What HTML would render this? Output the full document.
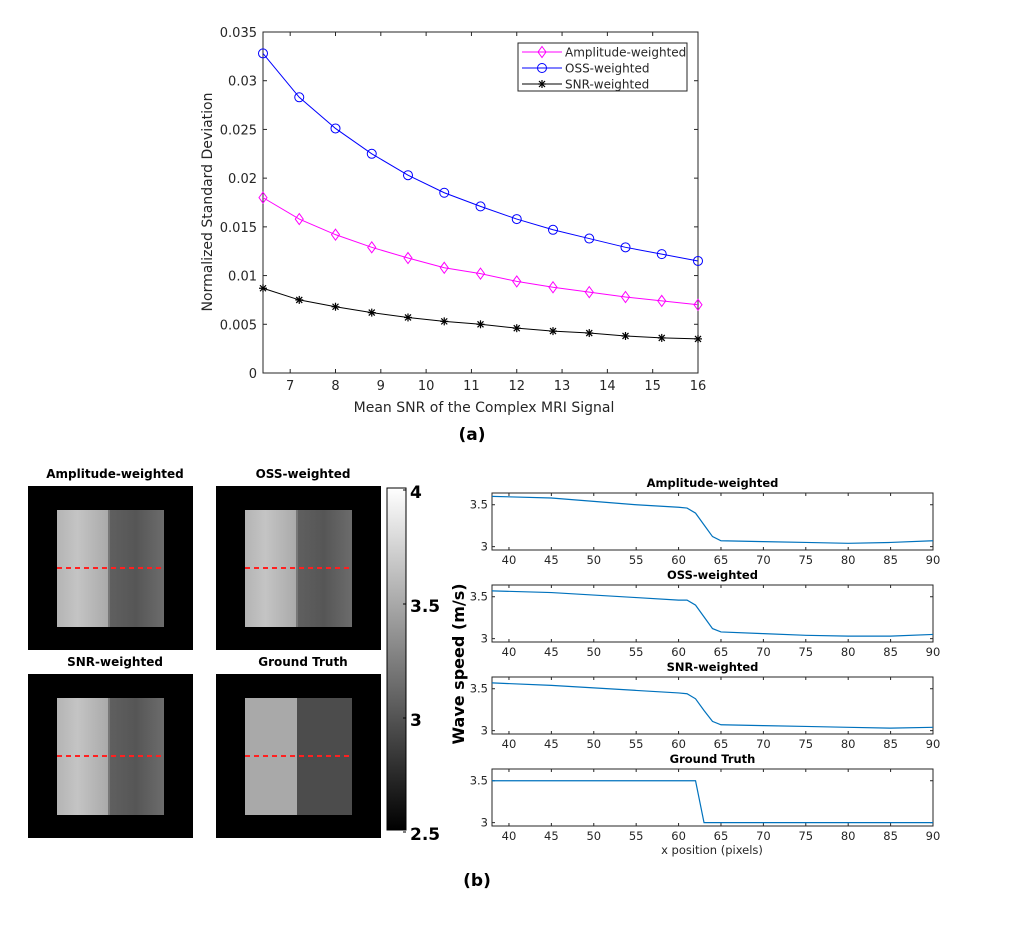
<!DOCTYPE html>
<html><head><meta charset="utf-8"><style>
body{margin:0;background:#fff;font-family:"Liberation Sans","DejaVu Sans",sans-serif}
svg text{font-family:"DejaVu Sans","Liberation Sans",sans-serif}
</style></head><body>
<svg id="fig" width="1016" height="940" viewBox="0 0 1016 940" xmlns="http://www.w3.org/2000/svg">
<rect width="1016" height="940" fill="#fff"/>
<g id="chartA"></g>
<g id="images"></g>
<g id="profiles"></g>
<text x="472" y="440" font-size="17" font-weight="bold" text-anchor="middle">(a)</text>
<text x="477" y="886" font-size="17" font-weight="bold" text-anchor="middle">(b)</text>
</svg>
<script>
const NS="http://www.w3.org/2000/svg";
function mk(p,t,a,txt){const e=document.createElementNS(NS,t);for(const k in a)e.setAttribute(k,a[k]);if(txt!==undefined)e.textContent=txt;p.appendChild(e);return e;}

// ---- Chart (a) data
const snrX=[6.4,7.2,8,8.8,9.6,10.4,11.2,12,12.8,13.6,14.4,15.2,16];
const ampVals=[0.0180,0.0158,0.0142,0.0129,0.0118,0.0108,0.0102,0.0094,0.0088,0.0083,0.0078,0.0074,0.0070];
const ossVals=[0.0328,0.0283,0.0251,0.0225,0.0203,0.0185,0.0171,0.0158,0.0147,0.0138,0.0129,0.0122,0.0115];
const snrVals=[0.0087,0.0075,0.0068,0.0062,0.0057,0.0053,0.0050,0.0046,0.0043,0.0041,0.0038,0.0036,0.0035];
const xTicksA=[7,8,9,10,11,12,13,14,15,16];
const yTicksA=[0,0.005,0.01,0.015,0.02,0.025,0.03,0.035];
const yTickLabelsA=["0","0.005","0.01","0.015","0.02","0.025","0.03","0.035"];

(function(){
 const g=document.getElementById('chartA');
 const L=263,R=698,T=32,B=373,x0=6.4,x1=16,y0=0,y1=0.035;
 const sx=v=>L+(v-x0)/(x1-x0)*(R-L), sy=v=>B-(v-y0)/(y1-y0)*(B-T);
 let e=mk(g,'rect',{x:L,y:T,width:R-L,height:B-T,fill:'#fff',stroke:'#262626','stroke-width':1});
 
 xTicksA.forEach(v=>{const x=sx(v);
  mk(g,'line',{x1:x,x2:x,y1:B,y2:B-4,stroke:'#262626'});mk(g,'line',{x1:x,x2:x,y1:T,y2:T+4,stroke:'#262626'});
  const t=mk(g,'text',{x:x,y:B+17,'font-size':13,fill:'#262626','text-anchor':'middle'},String(v));
  });
 yTicksA.forEach((v,i)=>{const y=sy(v);
  mk(g,'line',{x1:L,x2:L+4,y1:y,y2:y,stroke:'#262626'});mk(g,'line',{x1:R,x2:R-4,y1:y,y2:y,stroke:'#262626'});
  const t=mk(g,'text',{x:L-6,y:y+5,'font-size':13,fill:'#262626','text-anchor':'end'},yTickLabelsA[i]);
  });
 e=mk(g,'text',{x:484,y:412,'font-size':14,fill:'#262626','text-anchor':'middle'},'Mean SNR of the Complex MRI Signal');
 
 e=mk(g,'text',{x:0,y:0,'font-size':14,fill:'#262626','text-anchor':'middle',transform:'translate(212,202) rotate(-90)'},'Normalized Standard Deviation');
 
 function marker(p,type,x,y,c){
  if(type==='d')return mk(p,'polygon',{points:`${x},${y-5.5} ${x+4},${y} ${x},${y+5.5} ${x-4},${y}`,fill:'none',stroke:c});
  if(type==='o')return mk(p,'circle',{cx:x,cy:y,r:4.5,fill:'none',stroke:c});
  const s=mk(p,'g',{stroke:c,'stroke-width':1.2});
  mk(s,'line',{x1:x-4,x2:x+4,y1:y,y2:y});mk(s,'line',{x1:x,x2:x,y1:y-4,y2:y+4});
  mk(s,'line',{x1:x-3,x2:x+3,y1:y-3,y2:y+3});mk(s,'line',{x1:x-3,x2:x+3,y1:y+3,y2:y-3});return s;}
 const series=[[ampVals,'#ff00ff','d','amplitude-weighted-series'],[ossVals,'#0000ff','o','oss-weighted-series'],[snrVals,'#000','s','snr-weighted-series']];
 series.forEach(([vals,c,m,name])=>{
  const sg=mk(g,'g',{});
  mk(sg,'polyline',{points:vals.map((v,i)=>sx(snrX[i])+','+sy(v)).join(' '),fill:'none',stroke:c,'stroke-width':1});
  vals.forEach((v,i)=>{const mm=marker(sg,m,sx(snrX[i]),sy(v),c);});
 });
 const lg=mk(g,'g',{});
 mk(lg,'rect',{x:518,y:43,width:169,height:48,fill:'#fff',stroke:'#262626'});
 const names=['Amplitude-weighted','OSS-weighted','SNR-weighted'];
 series.forEach(([v,c,m],i)=>{const y=52+i*16;
  const le=mk(lg,'g',{});
  mk(le,'line',{x1:522,x2:562,y1:y,y2:y,stroke:c});marker(le,m,542,y,c);
  mk(le,'text',{x:565,y:y+4.5,'font-size':12,fill:'#262626'},names[i]);});
})();

// ---- Images
(function(){
 const g=document.getElementById('images');
 const panels=[['Amplitude-weighted',28,486,'#bdbdbd','#6a6a6a',false],['OSS-weighted',216,486,'#bdbdbd','#666',false],
  ['SNR-weighted',28,674,'#bdbdbd','#666',false],['Ground Truth',216,674,'#a9a9a9','#4c4c4c',true]];
 const defs=mk(g,'defs',{});
 const lgL=mk(defs,'linearGradient',{id:'gl',x1:0,x2:1,y1:0,y2:0});
 mk(lgL,'stop',{offset:0,'stop-color':'#b4b4b4'});mk(lgL,'stop',{offset:0.4,'stop-color':'#c4c4c4'});mk(lgL,'stop',{offset:1,'stop-color':'#aaaaaa'});
 const lgR=mk(defs,'linearGradient',{id:'gr',x1:0,x2:1,y1:0,y2:0});
 mk(lgR,'stop',{offset:0,'stop-color':'#606060'});mk(lgR,'stop',{offset:0.5,'stop-color':'#565656'});mk(lgR,'stop',{offset:1,'stop-color':'#6c6c6c'});
 const cb=mk(defs,'linearGradient',{id:'cb',x1:0,x2:0,y1:0,y2:1});
 mk(cb,'stop',{offset:0,'stop-color':'#fff'});mk(cb,'stop',{offset:1,'stop-color':'#000'});
 panels.forEach(([t,x,y,lc,rc,gt])=>{
  const p=mk(g,'g',{});
  mk(p,'text',{x:x+87,y:y-8,'font-size':12,'font-weight':'bold','text-anchor':'middle',fill:'#000'},t);
  mk(p,'rect',{x:x,y:y,width:165,height:164,fill:'#000'});
  const ix=x+29,iy=y+24,w=107,h=117,sp=gt?52:51;
  mk(p,'rect',{x:ix,y:iy,width:sp,height:h,fill:gt?lc:'url(#gl)'});
  mk(p,'rect',{x:ix+sp,y:iy,width:w-sp,height:h,fill:gt?rc:'url(#gr)'});
  if(!gt)mk(p,'rect',{x:ix+sp,y:iy,width:2,height:h,fill:'#777'});
  mk(p,'line',{x1:ix,x2:ix+w,y1:y+82,y2:y+82,stroke:'#ff2020','stroke-width':2,'stroke-dasharray':'5,4'});
 });
 const c=mk(g,'g',{});
 mk(c,'rect',{x:387,y:488,width:19,height:342,fill:'url(#cb)',stroke:'#000'});
 [['4',492],['3.5',606],['3',720],['2.5',834]].forEach(([l,y])=>{
  mk(c,'line',{x1:403,x2:406,y1:y-2,y2:y-2,stroke:'#000'});
  mk(c,'text',{x:410,y:y+6,'font-size':17,'font-weight':'bold',fill:'#000'},l);});
})();

// ---- Profile plots data
const profX=[38,45,50,55,60,61,62,63,64,65,70,75,80,85,90];
const ampProf=[3.60,3.58,3.54,3.50,3.47,3.46,3.40,3.26,3.12,3.07,3.06,3.05,3.04,3.05,3.07];
const ossProf=[3.57,3.55,3.52,3.49,3.46,3.46,3.40,3.26,3.12,3.08,3.06,3.04,3.03,3.03,3.05];
const snrProf=[3.57,3.54,3.51,3.48,3.45,3.44,3.38,3.24,3.11,3.07,3.06,3.05,3.04,3.03,3.04];
const gtProf=[3.5,3.5,3.5,3.5,3.5,3.5,3.5,3.0,3.0,3.0,3.0,3.0,3.0,3.0,3.0];
const profXTicks=[40,45,50,55,60,65,70,75,80,85,90];
const profYTicks=[3,3.5];

(function(){
 const g=document.getElementById('profiles');
 const L=492,R=933,x0=38,x1=90,y0=2.96,y1=3.64,H=57;
 const sets=[['Amplitude-weighted',ampProf],['OSS-weighted',ossProf],['SNR-weighted',snrProf],['Ground Truth',gtProf]];
 sets.forEach(([t,vals],k)=>{
  const T=493+k*92,B=T+H;
  const sx=v=>L+(v-x0)/(x1-x0)*(R-L), sy=v=>B-(v-y0)/(y1-y0)*H;
  const p=mk(g,'g',{});
  mk(p,'text',{x:(L+R)/2,y:T-6,'font-size':11.5,'font-weight':'bold','text-anchor':'middle',fill:'#000'},t);
  mk(p,'rect',{x:L,y:T,width:R-L,height:H,fill:'#fff',stroke:'#262626'});
  profXTicks.forEach(v=>{const x=sx(v);
   mk(p,'line',{x1:x,x2:x,y1:B,y2:B-3,stroke:'#262626'});mk(p,'line',{x1:x,x2:x,y1:T,y2:T+3,stroke:'#262626'});
   mk(p,'text',{x:x,y:B+14,'font-size':11.5,fill:'#262626','text-anchor':'middle'},String(v));});
  profYTicks.forEach(v=>{const y=sy(v);
   mk(p,'line',{x1:L,x2:L+3,y1:y,y2:y,stroke:'#262626'});mk(p,'line',{x1:R,x2:R-3,y1:y,y2:y,stroke:'#262626'});
   mk(p,'text',{x:L-4,y:y+4,'font-size':11.5,fill:'#262626','text-anchor':'end'},String(v));});
  const ln=mk(p,'polyline',{points:vals.map((v,i)=>sx(profX[i])+','+sy(v)).join(' '),fill:'none',stroke:'#0072bd','stroke-width':1.2});
  
 });
 let e=mk(g,'text',{x:712,y:854,'font-size':11.5,fill:'#262626','text-anchor':'middle'},'x position (pixels)');
 
 e=mk(g,'text',{x:0,y:0,'font-size':16,'font-weight':'bold','text-anchor':'middle',fill:'#000',transform:'translate(464,664) rotate(-90)'},'Wave speed (m/s)');
 
})();
</script>
</body></html>
